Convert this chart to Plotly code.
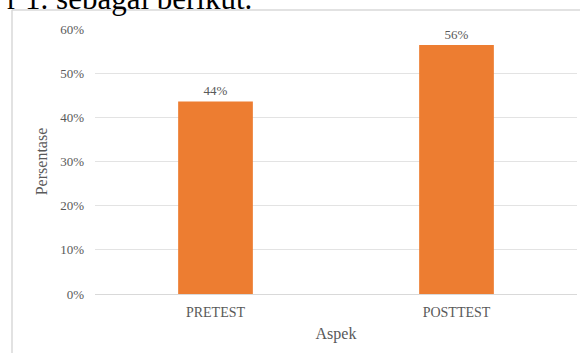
import plotly.graph_objects as go

categories = ["PRETEST", "POSTTEST"]
values = [0.436, 0.564]
y_ticks = [0, 0.1, 0.2, 0.3, 0.4, 0.5, 0.6]
y_tick_labels = ["0%", "10%", "20%", "30%", "40%", "50%", "60%"]

SERIF = "Liberation Serif, Times New Roman, serif"
GREY = "#595959"

fig = go.Figure(go.Bar(
    x=categories, y=values,
    marker=dict(color="#ED7D31", line=dict(width=0)),
    texttemplate="%{y:.0%}", textposition="outside",
    textfont=dict(family=SERIF, size=13, color=GREY),
    cliponaxis=False,
))

W, H = 581, 354
L, R, T, B = 95, 4, 29, 60
pw, ph = W - L - R, H - T - B

def px(x):
    return (x - L) / pw

def py(y):
    return (H - B - y) / ph

fig.update_layout(
    width=W, height=H,
    margin=dict(l=L, r=R, t=T, b=B),
    paper_bgcolor="white", plot_bgcolor="white",
    bargap=0.69,
    showlegend=False,
    font=dict(family=SERIF, color=GREY),
    xaxis=dict(
        title=dict(text="Aspek", font=dict(family=SERIF, size=16, color=GREY), standoff=8),
        tickfont=dict(family=SERIF, size=14, color=GREY),
        showline=False, ticks="", showgrid=False, zeroline=False,
        ticklabelstandoff=8,
    ),
    yaxis=dict(
        range=[0, 0.6],
        tickvals=y_ticks, ticktext=y_tick_labels,
        tickfont=dict(family=SERIF, size=13, color=GREY),
        title=dict(text="Persentase", font=dict(family=SERIF, size=16, color=GREY), standoff=8),
        showgrid=True, gridcolor="#e3e3e3", gridwidth=1,
        zeroline=True, zerolinecolor="#d9d9d9", zerolinewidth=1,
        showline=False, ticks="", ticklen=0,
        ticklabelstandoff=10,
    ),
    shapes=[
        dict(type="line", xref="paper", yref="paper", layer="below",
             x0=px(12), x1=px(12), y0=py(10), y1=py(H - 1),
             line=dict(color="#d9d9d9", width=1.5)),
        dict(type="line", xref="paper", yref="paper", layer="below",
             x0=px(12), x1=px(W - 1), y0=py(10), y1=py(10),
             line=dict(color="#d9d9d9", width=1.5)),
    ],
    annotations=[
        dict(text="r 1. sebagai berikut.", xref="paper", yref="paper",
             x=px(254), y=py(18), xanchor="right", yanchor="bottom",
             showarrow=False,
             font=dict(family=SERIF, size=31, color="black")),
    ],
)

fig.write_html(
    "out.html",
    config={"displayModeBar": False},
    post_script="document.documentElement.style.overflow='hidden';document.body.style.overflow='hidden';document.body.style.margin='0';",
)
